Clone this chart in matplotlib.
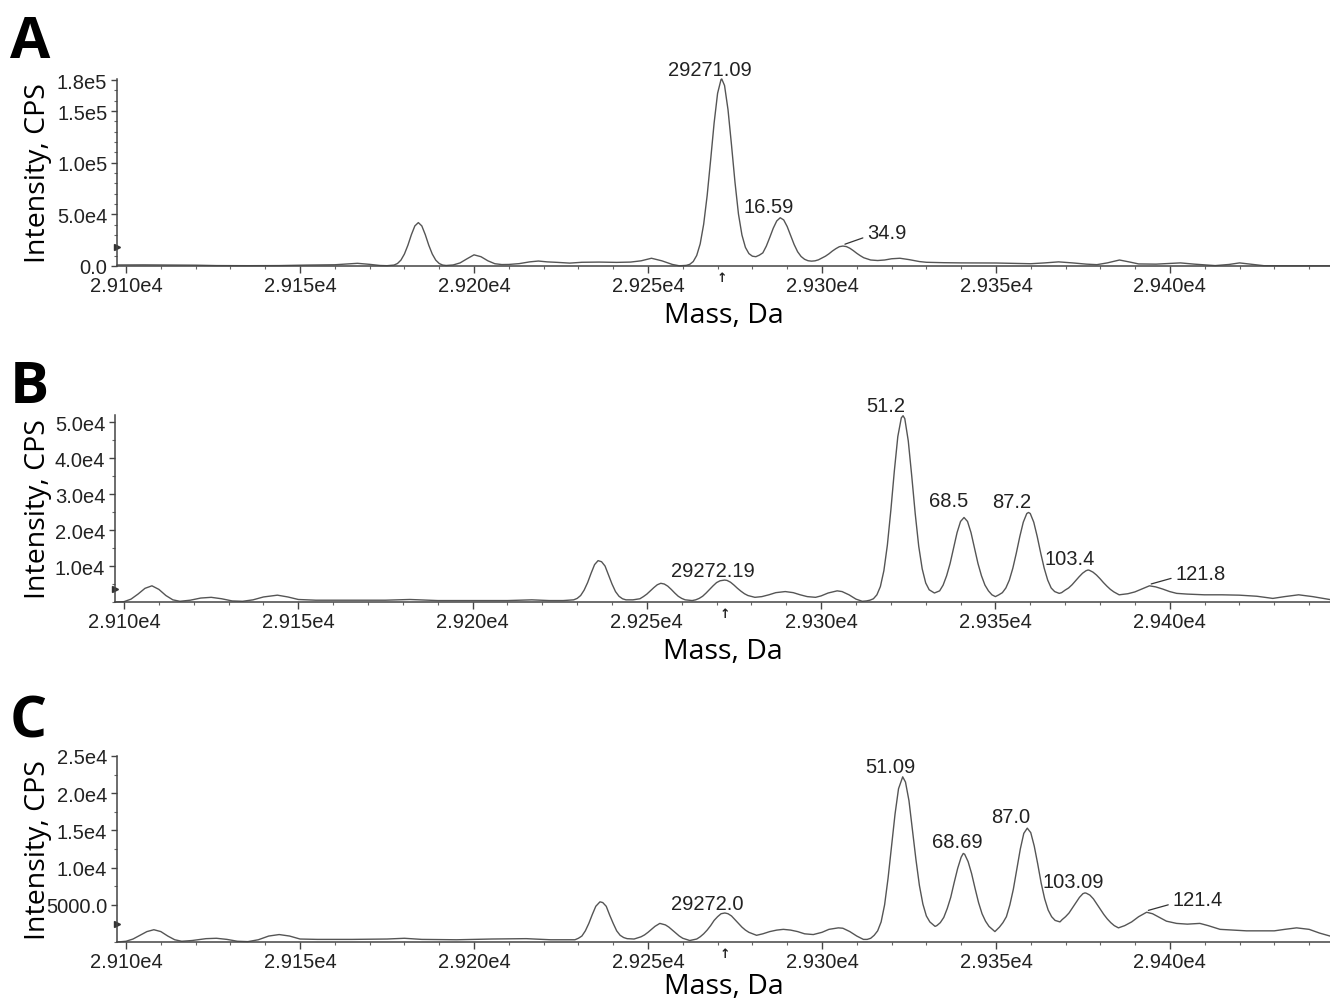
import numpy as np
import matplotlib.pyplot as plt
from matplotlib.ticker import FixedLocator, MultipleLocator

# ---- panel A: deconvoluted spectrum (mass in Da, intensity in kcps) ----
mass_a = [29097.5, 29105, 29112, 29120, 29126, 29135, 29144, 29152, 29160, 29163,
          29166.5, 29170, 29173, 29175, 29177, 29178, 29179, 29180, 29181, 29182,
          29183, 29184, 29185, 29186, 29187, 29188, 29189, 29190, 29191, 29192,
          29194, 29196, 29198, 29200, 29202, 29204, 29206, 29208, 29210, 29213,
          29216, 29218.5, 29221, 29224, 29227.5, 29231, 29236, 29241, 29245, 29248,
          29251, 29254, 29257, 29259, 29261, 29262, 29263, 29264, 29265, 29266,
          29267, 29268, 29269, 29270, 29271, 29271.2, 29272, 29273, 29274, 29275,
          29276, 29277, 29278, 29279, 29280, 29281, 29282, 29283, 29284, 29285,
          29286, 29287, 29288, 29289, 29290, 29291, 29292, 29293, 29294, 29295,
          29296, 29297, 29298, 29299, 29300, 29301, 29302, 29303, 29304, 29305,
          29306, 29307, 29308, 29309, 29310, 29311, 29312, 29314, 29316, 29318,
          29320, 29322.4, 29325, 29328, 29330, 29335, 29340, 29345, 29350, 29355,
          29360, 29364, 29368, 29372, 29376, 29379, 29382, 29385.5, 29388.5, 29391,
          29396, 29400, 29403, 29407, 29413, 29417, 29420, 29424, 29427, 29435,
          29446]
int_a = [1.0, 1.1, 1.0, 0.8, 0.4, 0.3, 0.4, 0.9, 1.2, 1.8,
         2.6, 1.6, 0.5, 0.3, 0.9, 2.4, 5.7, 11.6, 20.1, 30.3,
         38.8, 42.0, 38.8, 30.3, 20.1, 11.6, 5.7, 2.4, 0.9, 0.5,
         1.0, 3.0, 7.0, 10.8, 9.0, 5.0, 2.2, 1.4, 1.5, 2.3,
         4.0, 4.8, 4.0, 3.5, 2.8, 3.6, 3.8, 3.5, 3.8, 5.0,
         7.5, 5.0, 1.5, 0.2, 0.6, 1.6, 4.3, 10.2, 21.4, 40.4,
         68.1, 102.5, 138.3, 167.1, 180.6, 181.0, 174.7, 151.2, 117.1, 81.1,
         50.3, 30.0, 18.0, 12.0, 9.5, 9.0, 10.5, 12.7, 19.2, 27.7,
         36.6, 43.6, 46.7, 44.6, 38.2, 29.5, 20.8, 13.8, 9.2, 6.5,
         5.1, 4.7, 5.0, 6.0, 7.7, 9.5, 11.8, 14.5, 16.8, 18.7,
         19.3, 18.8, 17.2, 14.9, 12.3, 10.0, 8.0, 5.8, 5.3, 5.8,
         7.0, 7.5, 6.2, 4.3, 3.6, 3.2, 3.0, 3.0, 2.9, 2.5,
         2.2, 3.0, 4.0, 3.0, 1.8, 1.3, 3.0, 5.8, 3.8, 2.0,
         1.8, 2.5, 3.0, 1.8, 0.4, 1.5, 3.0, 1.5, 0.3, 0.2,
         0.2]

# ---- panel B ----
mass_b = [29097.5, 29100, 29102, 29104, 29106, 29108, 29110, 29112, 29114, 29116,
          29119, 29122, 29125, 29128, 29131, 29134, 29137, 29140, 29144, 29147,
          29150, 29155, 29165, 29175, 29182, 29190, 29200, 29210, 29217, 29222,
          29226, 29229, 29230, 29231, 29232, 29233, 29234, 29235, 29236, 29237,
          29238, 29239, 29240, 29241, 29242, 29243, 29244, 29246, 29248, 29249,
          29250, 29251, 29252, 29253, 29254, 29255, 29256, 29257, 29258, 29259,
          29260, 29261, 29263, 29264, 29265, 29266, 29267, 29268, 29269, 29270,
          29271, 29272.3, 29273, 29274, 29275, 29276, 29277, 29278, 29279, 29281,
          29283, 29285, 29287, 29289.7, 29292, 29294, 29296, 29298.4, 29300, 29302,
          29304.6, 29306, 29308, 29310, 29311.8, 29313, 29314, 29315, 29316, 29317,
          29318, 29319, 29320, 29321, 29322, 29323, 29323.5, 29324, 29325, 29326,
          29327, 29328, 29329, 29330, 29331, 29332.5, 29334, 29335, 29336, 29337,
          29338, 29339, 29340, 29341, 29342, 29343, 29344, 29345, 29346, 29347,
          29348, 29349, 29350, 29351, 29352, 29353, 29354, 29355, 29356, 29357,
          29358, 29359, 29359.5, 29360, 29361, 29362, 29363, 29364, 29365, 29366,
          29367, 29368.3, 29369, 29370, 29371, 29372, 29373, 29374, 29375, 29376,
          29376.6, 29377, 29378, 29379, 29380, 29381, 29382, 29383, 29384, 29385.5,
          29388, 29390, 29392, 29394.2, 29396, 29398, 29400, 29402, 29405, 29410,
          29415, 29420, 29425, 29429.6, 29433, 29437, 29441, 29444, 29446.5]
int_b = [0.0, 0.1, 0.8, 2.2, 3.8, 4.5, 3.5, 1.8, 0.6, 0.2,
         0.5, 1.1, 1.3, 0.9, 0.3, 0.2, 0.6, 1.4, 1.9, 1.4,
         0.7, 0.5, 0.5, 0.5, 0.7, 0.4, 0.4, 0.4, 0.6, 0.4,
         0.4, 0.6, 1.0, 1.8, 3.3, 5.4, 8.0, 10.4, 11.5, 11.2,
         10.0, 7.5, 5.0, 2.9, 1.6, 0.9, 0.6, 0.6, 0.9, 1.5,
         2.2, 3.1, 4.0, 4.8, 5.2, 5.0, 4.4, 3.5, 2.5, 1.6,
         1.0, 0.6, 0.4, 0.6, 1.0, 1.6, 2.5, 3.5, 4.5, 5.4,
         5.9, 6.1, 6.0, 5.5, 4.7, 3.8, 3.0, 2.3, 1.8, 1.3,
         1.5, 2.0, 2.6, 2.9, 2.6, 2.0, 1.5, 1.3, 1.7, 2.5,
         3.1, 2.9, 2.0, 0.8, 0.2, 0.3, 0.5, 0.9, 2.0, 4.3,
         8.7, 15.8, 25.5, 36.4, 46.0, 51.2, 51.8, 51.0, 44.8, 35.0,
         24.5, 15.5, 9.2, 5.3, 3.4, 2.5, 3.1, 4.7, 7.3, 10.7,
         15.0, 19.3, 22.4, 23.5, 22.4, 19.3, 15.0, 10.7, 7.3, 4.7,
         3.1, 2.0, 1.5, 2.0, 2.6, 3.9, 6.1, 9.4, 13.6, 18.2,
         22.2, 24.6, 24.9, 24.6, 22.2, 18.2, 13.6, 9.4, 6.1, 3.9,
         2.9, 2.4, 2.6, 3.3, 3.9, 4.8, 5.9, 7.0, 8.0, 8.7,
         8.9, 8.8, 8.3, 7.5, 6.5, 5.4, 4.4, 3.5, 2.8, 2.0,
         2.3, 2.8, 3.6, 4.5, 4.2, 3.6, 2.9, 2.4, 2.2, 2.0,
         2.0, 1.9, 1.6, 1.0, 1.5, 2.0, 1.5, 1.0, 0.6]

# ---- panel C ----
mass_c = [29097.5, 29100, 29102, 29104, 29106, 29108, 29110, 29112, 29114, 29116,
          29119, 29123, 29126, 29129, 29132, 29135, 29138, 29141, 29144, 29147,
          29150, 29155, 29165, 29175, 29180, 29185, 29195, 29205, 29215, 29222,
          29229, 29230, 29231, 29232, 29233, 29234, 29235, 29236.2, 29237, 29238,
          29239, 29240, 29241, 29242, 29243, 29244, 29246, 29248, 29249, 29250,
          29251, 29252, 29253.4, 29255, 29256, 29257, 29258, 29259, 29260, 29262,
          29264, 29265, 29266, 29267, 29268, 29269, 29270, 29271, 29272.1, 29273,
          29274, 29275, 29276, 29277, 29278, 29279, 29281.2, 29283, 29285, 29287,
          29288.9, 29291, 29293, 29295, 29297.5, 29300, 29302, 29304.7, 29306, 29308,
          29310, 29311.9, 29313, 29314, 29315, 29316, 29317, 29318, 29319, 29320,
          29321, 29322, 29323.2, 29324, 29325, 29326, 29327, 29328, 29329, 29330,
          29331, 29332.5, 29333, 29334, 29335, 29336, 29337, 29338, 29339, 29340,
          29340.6, 29341, 29342, 29343, 29344, 29345, 29346, 29347, 29348, 29349.7,
          29351, 29352, 29353, 29354, 29355, 29356, 29357, 29358, 29359, 29360,
          29361, 29362, 29363, 29364, 29365, 29366, 29367, 29368.4, 29369, 29370,
          29371, 29372, 29373, 29374, 29375, 29375.6, 29376, 29377, 29378, 29379,
          29380, 29381, 29382, 29383, 29384, 29385.2, 29387, 29389, 29391, 29393.3,
          29395, 29397, 29399, 29401.9, 29405, 29408.6, 29411, 29414.4, 29418, 29422,
          29426, 29430, 29433, 29436.4, 29440, 29443, 29446]
int_c = [0.0, 0.1, 0.4, 0.9, 1.4, 1.65, 1.4, 0.8, 0.3, 0.1,
         0.2, 0.45, 0.5, 0.35, 0.1, 0.05, 0.3, 0.8, 1.0, 0.8,
         0.4, 0.35, 0.35, 0.4, 0.5, 0.35, 0.3, 0.4, 0.45, 0.3,
         0.3, 0.5, 0.8, 1.5, 2.5, 3.7, 4.8, 5.4, 5.3, 4.8,
         3.6, 2.5, 1.5, 0.9, 0.6, 0.45, 0.4, 0.7, 0.95, 1.3,
         1.7, 2.1, 2.5, 2.3, 2.0, 1.6, 1.2, 0.8, 0.5, 0.2,
         0.4, 0.7, 1.1, 1.6, 2.2, 2.9, 3.4, 3.8, 3.9, 3.8,
         3.5, 3.0, 2.5, 2.0, 1.6, 1.3, 0.9, 1.1, 1.4, 1.6,
         1.7, 1.6, 1.4, 1.1, 1.0, 1.3, 1.7, 1.9, 1.85, 1.4,
         0.8, 0.35, 0.35, 0.5, 0.9, 1.5, 2.7, 5.0, 8.6, 12.9,
         17.2, 20.6, 22.2, 21.5, 19.0, 15.1, 11.1, 7.6, 5.1, 3.5,
         2.7, 2.1, 2.2, 2.6, 3.3, 4.5, 6.0, 8.0, 9.9, 11.4,
         11.9, 11.8, 10.8, 9.2, 7.2, 5.3, 3.8, 2.8, 2.1, 1.4,
         2.0, 2.6, 3.4, 5.0, 7.1, 9.8, 12.5, 14.6, 15.3, 14.7,
         12.9, 10.5, 7.9, 5.8, 4.3, 3.4, 2.9, 2.7, 3.0, 3.4,
         3.9, 4.6, 5.3, 6.0, 6.5, 6.6, 6.55, 6.3, 5.8, 5.1,
         4.4, 3.7, 3.1, 2.6, 2.2, 1.9, 2.2, 2.7, 3.4, 4.0,
         3.8, 3.3, 2.8, 2.5, 2.4, 2.5, 2.2, 1.7, 1.6, 1.5,
         1.5, 1.5, 1.7, 1.9, 1.7, 1.2, 0.8]

# peak labels (text, peak mass)
labels_a = ["29271.09", "16.59", "34.9"]
peaks_a = [29271.2, 29288, 29306.1]
labels_b = ["29272.19", "51.2", "68.5", "87.2", "103.4", "121.8"]
peaks_b = [29272.3, 29323.5, 29341, 29359.5, 29376.6, 29394.2]
labels_c = ["29272.0", "51.09", "68.69", "87.0", "103.09", "121.4"]
peaks_c = [29272.1, 29323.2, 29340.6, 29359, 29375.6, 29393.3]

# y ticks
yticks_a = [0, 5e4, 1e5, 1.5e5, 1.8e5]
ylabels_a = ["0.0", "5.0e4", "1.0e5", "1.5e5", "1.8e5"]
yticks_b = [1e4, 2e4, 3e4, 4e4, 5e4]
ylabels_b = ["1.0e4", "2.0e4", "3.0e4", "4.0e4", "5.0e4"]
yticks_c = [5000, 1e4, 1.5e4, 2e4, 2.5e4]
ylabels_c = ["5000.0", "1.0e4", "1.5e4", "2.0e4", "2.5e4"]

xticks = [29100, 29150, 29200, 29250, 29300, 29350, 29400]
threshold = {"A": 1.8e4, "B": 3.7e3, "C": 2.4e3}
main_mass = {"A": 29271.2, "B": 29272.3, "C": 29272.1}

W, H = 1330, 1003
fig = plt.figure(figsize=(W / 100, H / 100), dpi=100)

# pixel boxes: left, top, right, bottom
boxes = {"A": (117, 80, 1330, 267), "B": (115, 416, 1330, 603), "C": (117, 757, 1330, 943)}
ylims = {"A": 1.81e5, "B": 5.2e4, "C": 2.5e4}
yminor = {"A": 1e4, "B": 5e3, "C": 2.5e3}
letter_base = {"A": 58, "B": 403, "C": 738}
xlabel_gap = {"A": 35, "B": 35, "C": 30}

# label offsets in pixels (dx, dy, leader)
offs = {
    "A": [(-12, 4, False), (-12, 6, False), (22, 6, True)],
    "B": [(-12, 4, False), (-17, 5, False), (-15, 11, False), (-17, 5, False),
          (-18, 6, False), (24, 5, True)],
    "C": [(-18, 4, False), (-12, 5, False), (-6, 6, False), (-17, 6, False),
          (-12, 6, False), (24, 5, True)],
}

panels = {
    "A": (mass_a, int_a, labels_a, peaks_a, yticks_a, ylabels_a),
    "B": (mass_b, int_b, labels_b, peaks_b, yticks_b, ylabels_b),
    "C": (mass_c, int_c, labels_c, peaks_c, yticks_c, ylabels_c),
}

tick_font = dict(family="Liberation Sans", size=14.5)
dark = "#222222"

for key, (m, inten, labs, pks, yt, ytl) in panels.items():
    l, t, r, b = boxes[key]
    ax = fig.add_axes([l / W, 1 - b / H, (r - l) / W, (b - t) / H])
    m = np.array(m)
    y = np.array(inten) * 1e3
    ax.plot(m, y, color="#555555", lw=1.0, clip_on=False)
    ax.set_xlim(29097.4, 29446)
    ax.set_ylim(0, ylims[key])

    for s in ["top", "right"]:
        ax.spines[s].set_visible(False)
    for s in ["left", "bottom"]:
        ax.spines[s].set_color("#444444")
        ax.spines[s].set_linewidth(1.1)

    ax.xaxis.set_major_locator(FixedLocator(xticks))
    ax.set_xticklabels([f"{v / 1e4:.3f}e4" for v in xticks], fontdict=tick_font, color=dark)
    ax.xaxis.set_minor_locator(MultipleLocator(10))
    ax.yaxis.set_major_locator(FixedLocator(yt))
    ax.set_yticklabels(ytl, fontdict=tick_font, color=dark)
    ax.yaxis.set_minor_locator(MultipleLocator(yminor[key]))
    ax.tick_params(which="major", length=5, width=1, color="#444444", pad=2)
    ax.tick_params(which="minor", length=2.5, width=0.8, color="#666666")
    ax.tick_params(axis="y", which="major", length=4, pad=3)

    ax.set_xlabel("Mass, Da", family="Open Sans", fontsize=20.5, color="black")
    ax.xaxis.set_label_coords(0.5, -xlabel_gap[key] / (b - t))
    ax.set_ylabel("Intensity, CPS", family="Open Sans", fontsize=20.5, color="black")
    ax.yaxis.set_label_coords((38 - l) / (r - l), 0.5)
    ax.yaxis.label.set_verticalalignment("center")

    # peak labels
    for lab, pk, (dx, dy, leader) in zip(labs, pks, offs[key]):
        near = (m > pk - 2) & (m < pk + 2)
        top = y[near].max()
        if leader:
            ax.annotate(lab, xy=(pk + 0.5, top + ylims[key] * 0.01),
                        xytext=(dx, dy), textcoords="offset pixels",
                        ha="left", va="baseline", color=dark, **tick_font,
                        arrowprops=dict(arrowstyle="-", lw=0.9, color="#333333",
                                        shrinkA=1, shrinkB=0, relpos=(0, 0.3)))
        else:
            ax.annotate(lab, xy=(pk, top), xytext=(dx, dy), textcoords="offset pixels",
                        ha="center", va="baseline", color=dark, **tick_font)

    # small arrow under the axis at the main species
    ax.text(main_mass[key], -0.025, "\u2191", transform=ax.get_xaxis_transform(),
            ha="center", va="top", fontsize=9, fontweight="bold",
            family="DejaVu Sans", color="#222222")

    # threshold marker on the y spine
    ax.plot([0], [threshold[key]], marker=">", ms=5, color="#333333",
            transform=ax.get_yaxis_transform(), clip_on=False)

    fig.text(10 / W, 1 - letter_base[key] / H, key, family="Open Sans", weight="bold",
             fontsize=42, va="baseline", ha="left")

fig.savefig("out.png", dpi=100)
